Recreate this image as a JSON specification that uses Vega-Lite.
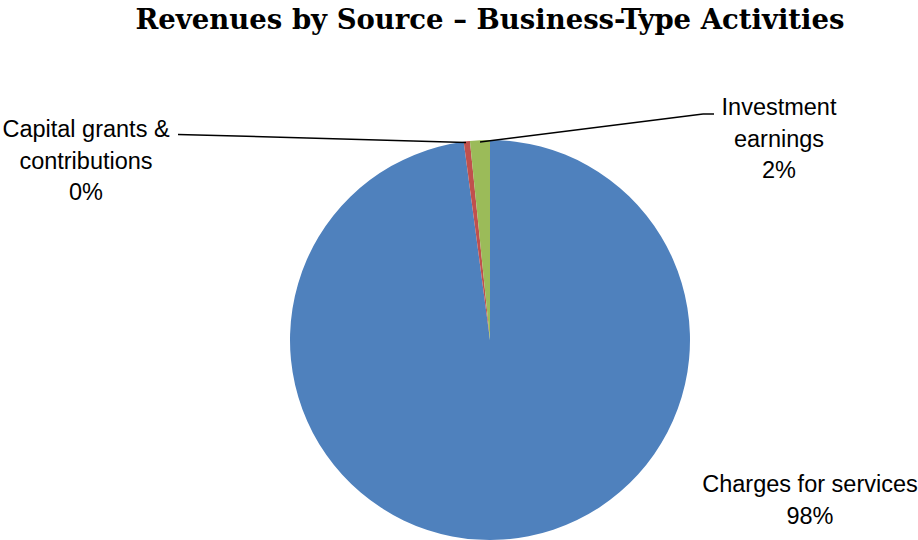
{
  "$schema": "https://vega.github.io/schema/vega-lite/v6.json",
  "width": 856,
  "height": 400,
  "autosize": {"type": "none"},
  "padding": {"left": 62, "top": 140, "right": 0, "bottom": 0},
  "background": "white",
  "config": {"view": {"stroke": null}},
  "title": {
    "text": "Revenues by Source – Business-Type Activities",
    "font": "DejaVu Serif",
    "fontSize": 27.5,
    "fontWeight": "bold",
    "color": "black",
    "anchor": "middle",
    "frame": "group",
    "baseline": "alphabetic",
    "offset": 40
  },
  "datasets": {
    "slices": [
      {"source": "Charges for services", "value": 97.9, "order": 1},
      {"source": "Capital grants & contributions", "value": 0.5, "order": 2},
      {"source": "Investment earnings", "value": 1.6, "order": 3}
    ],
    "leaders": [
      {"source": "Capital grants & contributions", "x": -1.56, "y": 1.028, "x2": -0.12, "y2": 0.988},
      {"source": "Investment earnings", "x": -0.05, "y": 0.99, "x2": 1.065, "y2": 1.13},
      {"source": "Investment earnings", "x": 1.065, "y": 1.13, "x2": 1.12, "y2": 1.13}
    ],
    "labels": [
      {"source": "Capital grants & contributions", "text": "Capital grants &\ncontributions\n0%", "x": -2.02, "y": 1.015},
      {"source": "Investment earnings", "text": "Investment\nearnings\n2%", "x": 1.445, "y": 1.125},
      {"source": "Charges for services", "text": "Charges for services\n98%", "x": 1.6, "y": -0.76}
    ]
  },
  "layer": [
    {
      "data": {"name": "slices"},
      "mark": {"type": "arc", "outerRadius": 200},
      "encoding": {
        "theta": {"field": "value", "type": "quantitative", "stack": true},
        "order": {"field": "order", "type": "quantitative"},
        "color": {
          "field": "source",
          "type": "nominal",
          "scale": {
            "domain": ["Charges for services", "Capital grants & contributions", "Investment earnings"],
            "range": ["#4F81BD", "#C0504D", "#9BBB59"]
          },
          "legend": null
        }
      }
    },
    {
      "data": {"name": "leaders"},
      "mark": {"type": "rule", "color": "black", "strokeWidth": 1.5},
      "encoding": {
        "x": {"field": "x", "type": "quantitative", "scale": {"domain": [-2.14, 2.14], "nice": false, "zero": false}, "axis": null},
        "y": {"field": "y", "type": "quantitative", "scale": {"domain": [-1, 1], "nice": false, "zero": false}, "axis": null},
        "x2": {"field": "x2"},
        "y2": {"field": "y2"}
      }
    },
    {
      "data": {"name": "labels"},
      "mark": {"type": "text", "font": "Liberation Sans", "fontSize": 23.5, "align": "center", "baseline": "alphabetic", "lineHeight": 31.5, "lineBreak": "\n", "color": "black"},
      "encoding": {
        "x": {"field": "x", "type": "quantitative", "scale": {"domain": [-2.14, 2.14], "nice": false, "zero": false}, "axis": null},
        "y": {"field": "y", "type": "quantitative", "scale": {"domain": [-1, 1], "nice": false, "zero": false}, "axis": null},
        "text": {"field": "text", "type": "nominal"}
      }
    }
  ]
}
